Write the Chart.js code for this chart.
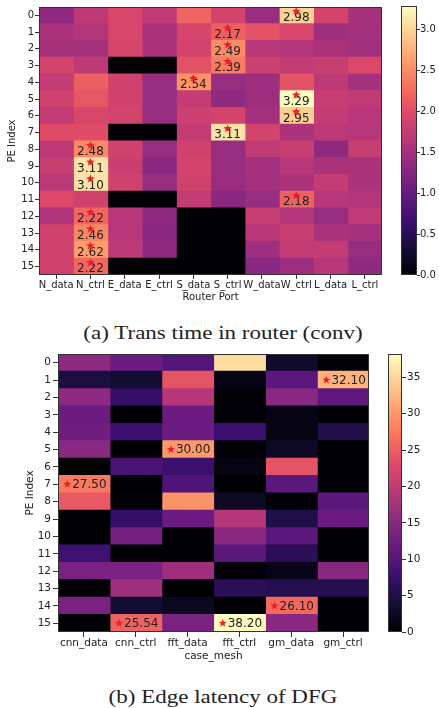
<!DOCTYPE html>
<html>
<head>
<meta charset="utf-8">
<script src="https://cdn.jsdelivr.net/npm/chart.js@4.4.0/dist/chart.umd.min.js"></script>
<style>
body { margin: 0; background: #fff; width: 439px; height: 708px; position: relative; overflow: hidden; }
.box { position: absolute; }
.cap { position: absolute; left: 0; width: 446px; text-align: center; font-family: 'Liberation Serif', serif;
       font-size: 19.5px; line-height: 22px; color: #222; transform: scaleX(1.18); transform-origin: 223px 0; }
</style>
</head>
<body>
<div class="box" style="left:0;top:0;width:392px;height:306px"><canvas id="heatA"></canvas></div>
<div class="box" style="left:392px;top:0;width:47px;height:306px"><canvas id="barA"></canvas></div>
<div class="cap" style="top:322px">(a) Trans time in router (conv)</div>
<div class="box" style="left:0;top:344px;width:380px;height:321px"><canvas id="heatB"></canvas></div>
<div class="box" style="left:380px;top:344px;width:59px;height:321px"><canvas id="barB"></canvas></div>
<div class="cap" style="top:686px">(b) Edge latency of DFG</div>

<script>
// rows (PE index) shared by both heatmaps
var peIndex = ['0','1','2','3','4','5','6','7','8','9','10','11','12','13','14','15'];

// (a) trans time in router, one array per router port, row 0..15
var portNames = ['N_data','N_ctrl','E_data','E_ctrl','S_data','S_ctrl','W_data','W_ctrl','L_data','L_ctrl'];
var nData = [1.35,1.55,1.52,1.88,1.75,1.85,1.75,2.00,1.70,1.80,1.68,1.95,1.60,1.85,1.85,1.85];
var nCtrl = [1.70,1.62,1.52,1.70,2.15,2.08,1.92,2.00,2.48,3.11,3.10,1.85,2.22,2.46,2.62,2.22];
var eData = [1.92,1.92,1.90,0,1.85,1.85,1.88,0,1.85,1.80,1.85,0,1.65,1.65,1.70,0];
var eCtrl = [1.72,1.55,1.55,0,1.40,1.40,1.40,0,1.40,1.30,1.40,0,1.35,1.30,1.35,0];
var sData = [2.20,1.90,1.88,2.05,2.54,1.75,1.82,1.75,1.85,1.88,1.85,1.75,0,0,0,0];
var sCtrl = [1.88,2.17,2.49,2.39,1.40,1.35,1.88,3.11,1.40,1.40,1.42,1.30,0,0,0,0];
var wData = [1.42,2.05,1.65,1.82,1.45,1.45,1.50,1.88,1.72,1.50,1.50,1.40,1.78,1.65,1.45,1.30];
var wCtrl = [2.98,1.92,1.62,1.75,2.05,3.29,2.95,1.55,1.78,1.65,1.55,2.18,1.62,1.80,1.75,1.45];
var lData = [1.88,1.45,1.55,1.78,1.70,1.78,1.75,1.68,1.35,1.55,1.75,1.65,1.40,1.55,1.75,1.65];
var lCtrl = [1.52,1.50,1.48,1.95,1.50,1.72,1.65,1.65,1.78,1.55,1.55,1.62,1.72,1.50,1.40,1.35];
var colorMaxA = 3.29;
var cbTicksA = [0, 0.5, 1.0, 1.5, 2.0, 2.5, 3.0];

// (b) edge latency of DFG, one array per case, row 0..15
var caseNames = ['cnn_data','cnn_ctrl','fft_data','fft_ctrl','gm_data','gm_ctrl'];
var cnnData = [15.5,4.5,15.5,12.0,12.5,15.0,0,27.50,24.5,0,0,8.0,13.5,0,13.5,0];
var cnnCtrl = [12.0,3.5,7.0,0,7.5,0,9.0,0,0.2,7.0,13.0,0,13.5,17.0,3.5,25.54];
var fftData = [10.0,24.0,19.0,12.0,12.0,30.00,7.5,9.5,29.5,12.0,0,0,17.0,0,2.0,13.5];
var fftCtrl = [35.5,1.2,0.2,0.3,7.5,0.2,1.0,0,2.5,19.0,15.0,10.5,0.5,6.0,0,38.20];
var gmData = [3.0,10.5,15.0,1.2,1.0,2.5,24.0,10.5,0.3,5.0,10.5,6.0,1.5,5.5,26.10,15.0];
var gmCtrl = [0.3,32.10,11.0,0,5.0,0,0,0,10.5,12.0,0,0,15.0,5.5,0,0];
var colorMaxB = 38.2;
var cbTicksB = [0, 5, 10, 15, 20, 25, 30, 35];

var colsA = [nData, nCtrl, eData, eCtrl, sData, sCtrl, wData, wCtrl, lData, lCtrl];
var colsB = [cnnData, cnnCtrl, fftData, fftCtrl, gmData, gmCtrl];

// magma colormap, 11 stops
var magmaStops = ['#000004','#140e36','#3b0f70','#641a80','#8c2981','#b73779','#de4968','#f7705c','#fe9f6d','#fecf92','#fcfdbf'];
function hexRgb(h) { return [parseInt(h.substr(1,2),16), parseInt(h.substr(3,2),16), parseInt(h.substr(5,2),16)]; }
function magma(t) {
  t = Math.max(0, Math.min(1, t));
  var p = t * (magmaStops.length - 1);
  var i = Math.min(Math.floor(p), magmaStops.length - 2);
  var f = p - i;
  var a = hexRgb(magmaStops[i]), b = hexRgb(magmaStops[i+1]);
  return 'rgb(' + Math.round(a[0]+(b[0]-a[0])*f) + ',' + Math.round(a[1]+(b[1]-a[1])*f) + ',' + Math.round(a[2]+(b[2]-a[2])*f) + ')';
}

Chart.defaults.font.family = "'DejaVu Sans', sans-serif";
Chart.defaults.font.size = 10;
Chart.defaults.color = '#222';
Chart.defaults.animation = false;

function drawStar(ctx, x, y, r) {
  ctx.beginPath();
  for (var i = 0; i < 10; i++) {
    var a = -Math.PI/2 + i*Math.PI/5;
    var rr = (i % 2) ? r*0.42 : r;
    ctx.lineTo(x + rr*Math.cos(a), y + rr*Math.sin(a));
  }
  ctx.closePath();
  ctx.fillStyle = '#ee1c25';
  ctx.fill();
}

var framePlugin = {
  id: 'frame',
  afterDraw: function(chart) {
    var a = chart.chartArea, ctx = chart.ctx;
    ctx.save();
    ctx.strokeStyle = '#333';
    ctx.lineWidth = 1;
    ctx.strokeRect(Math.round(a.left)+0.5, Math.round(a.top)+0.5, Math.round(a.right-a.left)-1, Math.round(a.bottom-a.top)-1);
    ctx.restore();
  }
};

function heatDatasets(cols, names, vmax) {
  return cols.map(function(col, c) {
    return {
      data: col.map(function(v, r) { return {x: names[c], y: [r - 0.5, r + 0.5]}; }),
      backgroundColor: col.map(function(v) { return magma(v / vmax); }),
      borderWidth: 0,
      inflateAmount: 0.6,
      grouped: false,
      barPercentage: 1,
      categoryPercentage: 1
    };
  });
}

function heatOptions(o) {
  return {
    responsive: true,
    maintainAspectRatio: false,
    layout: { padding: o.pad },
    plugins: { legend: { display: false }, tooltip: { enabled: false } },
    scales: {
      x: {
        type: 'category', offset: true,
        ticks: { autoSkip: false, maxRotation: 0, minRotation: 0, padding: o.xPad, font: { size: o.tickSize } },
        grid: { offset: false, drawOnChartArea: false, tickLength: o.tick, color: '#333' },
        border: { display: false },
        title: { display: true, text: o.xTitle, font: { size: o.tickSize }, padding: { top: 0, bottom: o.xTitlePad } },
        afterFit: function(a) { a.height = o.xHeight; }
      },
      y: {
        type: 'linear', reverse: true, min: -0.5, max: 15.5,
        afterBuildTicks: function(a) { a.ticks = peIndex.map(function(s, i) { return {value: i}; }); },
        ticks: { autoSkip: false, padding: o.yPad, font: { size: o.tickSize }, callback: function(v) { return peIndex[v]; } },
        grid: { drawOnChartArea: false, tickLength: o.tick, color: '#333' },
        border: { display: false },
        title: { display: true, text: 'PE Index', font: { size: o.tickSize }, padding: { top: o.yTitlePad, bottom: 0 } },
        afterFit: function(a) { a.width = o.yWidth; }
      }
    }
  };
}

// (a) mark the largest port of every row, star above number
var markRows = {
  id: 'markRows',
  afterDatasetsDraw: function(chart) {
    var ctx = chart.ctx, xs = chart.scales.x, ys = chart.scales.y;
    ctx.save();
    ctx.font = "12px 'DejaVu Sans'";
    ctx.textAlign = 'center';
    ctx.textBaseline = 'middle';
    for (var r = 0; r < peIndex.length; r++) {
      var best = 0;
      for (var c = 1; c < colsA.length; c++) if (colsA[c][r] > colsA[best][r]) best = c;
      var x = xs.getPixelForValue(best), y = ys.getPixelForValue(r);
      ctx.fillStyle = '#222';
      ctx.fillText(colsA[best][r].toFixed(2), x, y + 2.5);
      drawStar(ctx, x, y - 4, 4.5);
    }
    ctx.restore();
  }
};

// (b) mark the largest PE of every case, star left of number
var markCols = {
  id: 'markCols',
  afterDatasetsDraw: function(chart) {
    var ctx = chart.ctx, xs = chart.scales.x, ys = chart.scales.y;
    ctx.save();
    ctx.font = "12px 'DejaVu Sans'";
    ctx.textAlign = 'left';
    ctx.textBaseline = 'middle';
    for (var c = 0; c < colsB.length; c++) {
      var best = 0;
      for (var r = 1; r < colsB[c].length; r++) if (colsB[c][r] > colsB[c][best]) best = r;
      var label = colsB[c][best].toFixed(2);
      var w = ctx.measureText(label).width + 9;
      var x0 = xs.getPixelForValue(c) - w/2 + 1, y = ys.getPixelForValue(best);
      drawStar(ctx, x0 + 4, y, 4.3);
      ctx.fillStyle = '#222';
      ctx.fillText(label, x0 + 9, y + 0.5);
    }
    ctx.restore();
  }
};

new Chart(document.getElementById('heatA'), {
  type: 'bar',
  data: { labels: portNames, datasets: heatDatasets(colsA, portNames, colorMaxA) },
  options: heatOptions({ pad: {top: 5, right: 10, left: 0, bottom: 0}, xHeight: 31, yWidth: 39, tick: 4, xPad: 0, yPad: 1,
    tickSize: 10, xTitle: 'Router Port', xTitlePad: 3, yTitlePad: 6 }),
  plugins: [markRows, framePlugin]
});

new Chart(document.getElementById('heatB'), {
  type: 'bar',
  data: { labels: caseNames, datasets: heatDatasets(colsB, caseNames, colorMaxB) },
  options: heatOptions({ pad: {top: 10, right: 11, left: 0, bottom: 0}, xHeight: 33, yWidth: 58, tick: 5, xPad: 0, yPad: 2,
    tickSize: 10.5, xTitle: 'case_mesh', xTitlePad: 2, yTitlePad: 24 }),
  plugins: [markCols, framePlugin]
});

function colorbar(id, vmax, tickVals, pad, axisW, tick, tickPad, fontSize, fmt) {
  new Chart(document.getElementById(id), {
    type: 'bar',
    data: { labels: [''], datasets: [{
      data: [[0, vmax]],
      borderWidth: 0, barPercentage: 1, categoryPercentage: 1,
      backgroundColor: function(ctx) {
        var a = ctx.chart.chartArea;
        if (!a) return '#000';
        var g = ctx.chart.ctx.createLinearGradient(0, a.bottom, 0, a.top);
        magmaStops.forEach(function(s, i) { g.addColorStop(i / (magmaStops.length - 1), s); });
        return g;
      }
    }] },
    options: {
      responsive: true, maintainAspectRatio: false,
      layout: { padding: pad },
      plugins: { legend: { display: false }, tooltip: { enabled: false } },
      scales: {
        x: { display: false },
        y: {
          position: 'right', min: 0, max: vmax,
          afterBuildTicks: function(a) { a.ticks = tickVals.map(function(v) { return {value: v}; }); },
          ticks: { padding: tickPad, font: { size: fontSize }, callback: fmt },
          grid: { drawOnChartArea: false, tickLength: tick, color: '#333' },
          border: { display: false },
          afterFit: function(a) { a.width = axisW; }
        }
      }
    },
    plugins: [framePlugin]
  });
}

colorbar('barA', colorMaxA, cbTicksA, {top: 5, bottom: 31, left: 9, right: 0}, 22, 3, 0, 10, function(v) { return v.toFixed(1); });
colorbar('barB', colorMaxB, cbTicksB, {top: 10, bottom: 33, left: 8, right: 0}, 37, 4, 1, 10.5, function(v) { return String(v); });
</script>
</body>
</html>
